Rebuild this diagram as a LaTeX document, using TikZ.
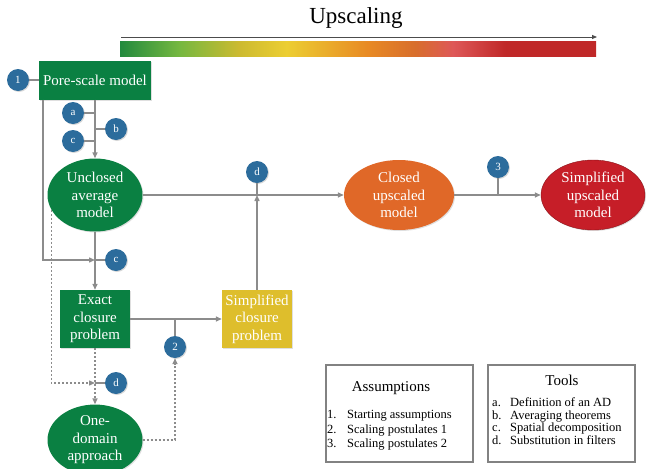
\documentclass[tikz,border=0pt]{standalone}
\usepackage{fontspec}
\setmainfont{Liberation Serif}
\usetikzlibrary{shapes.geometric,arrows.meta,shadows}

\definecolor{poregreen}{RGB}{10,128,66}
\definecolor{closedorange}{RGB}{224,104,40}
\definecolor{upred}{RGB}{198,30,40}
\definecolor{simpyellow}{RGB}{222,190,44}
\definecolor{badgeblue}{RGB}{44,108,156}
\definecolor{linegray}{RGB}{140,140,140}
\definecolor{framegray}{RGB}{130,130,130}
% colours of the upscaling bar
\definecolor{sg1}{RGB}{34,138,62}
\definecolor{sg2}{RGB}{118,184,64}
\definecolor{sg3}{RGB}{204,186,48}
\definecolor{sg4}{RGB}{236,206,50}
\definecolor{sg5}{RGB}{232,138,36}
\definecolor{sg6}{RGB}{216,110,44}
\definecolor{sg7}{RGB}{222,88,88}
\definecolor{sg8}{RGB}{192,40,40}
\pgfdeclarehorizontalshading{upscaling}{100bp}{color(0bp)=(sg1); color(25bp)=(sg1); color(31.3bp)=(sg2); color(37.5bp)=(sg3); color(42.5bp)=(sg4); color(51bp)=(sg5); color(56bp)=(sg6); color(60bp)=(sg7); color(65.5bp)=(sg8); color(75bp)=(sg8); color(100bp)=(sg8)}

\newcommand{\bw}{70pt}

\begin{document}
\begin{tikzpicture}[x=1pt,y=-1pt,
    model/.style={text=white, align=center, inner sep=1pt, font=\fontsize{15}{17.5}\selectfont, drop shadow={opacity=0.25, shadow xshift=1pt, shadow yshift=-1pt}},
    box/.style={model, rectangle, minimum width=\bw, minimum height=58pt},
    blob/.style={model, ellipse, minimum width=95pt, minimum height=73pt},
    badge/.style={circle, fill=badgeblue, text=white, minimum size=22pt, inner sep=0pt, font=\fontsize{11}{11}\selectfont, drop shadow={opacity=0.3, shadow xshift=1pt, shadow yshift=-1pt}},
    wire/.style={draw=linegray, line width=1.4pt},
    link/.style={wire, -{Triangle[length=6pt,width=5pt]}},
    dotlink/.style={link, dash pattern=on 2pt off 2pt},
    legend/.style={draw=framegray, line width=1.8pt, fill=white, anchor=north west, drop shadow={opacity=0.25, shadow xshift=1.5pt, shadow yshift=-1.5pt}},
    item/.style={anchor=north west, inner sep=0pt, align=left}]
    \useasboundingbox (0,0) rectangle (649,469);

    % Upscaling bar
    \node[font=\fontsize{23}{23}\selectfont] (title) at (356,18) {Upscaling};
    \coordinate (barl) at (121,37);
    \coordinate (barr) at (597,37);
    \draw[black!70, line width=0.8pt, -{Triangle[length=5pt,width=4pt]}] (barl) -- (barr);
    \shade[shading=upscaling] (120,41) rectangle (596,56);

    % Models
    \node[box, fill=poregreen, minimum width=112pt, minimum height=39pt] (pore) at (95,80) {Pore-scale model};
    \node[blob, fill=poregreen] (unclosed) at (95,195) {Unclosed\\average\\model};
    \node[box, fill=poregreen] (exact) at (95,319) {Exact\\closure\\problem};
    \node[box, fill=simpyellow] (simpcl) at (257,319) {Simplified\\closure\\problem};
    \node[blob, fill=poregreen, minimum height=68pt] (onedom) at (95,440) {One-\\domain\\approach};
    \node[blob, fill=closedorange, minimum width=110pt, minimum height=70pt] (closed) at (399,195) {Closed\\upscaled\\model};
    \node[blob, fill=upred, draw=upred!70!black, minimum width=104pt, minimum height=70pt] (simpup) at (593,195) {Simplified\\upscaled\\model};

    % Badges
    \node[badge] (b1) at (18,80) {1};
    \node[badge] (ta) at (73,113) {a};
    \node[badge] (tb) at (116,129) {b};
    \node[badge] (tc) at (73,141) {c};
    \node[badge] (tc2) at (116,260) {c};
    \node[badge] (td) at (116,383) {d};
    \node[badge] (td2) at (257,172) {d};
    \node[badge] (b2) at (175,347) {2};
    \node[badge] (b3) at (498,167) {3};

    % Connectors
    \draw[wire] (b1.east) -- (pore.west);
    \draw[wire] (ta.east) -- (ta -| pore.south);
    \draw[wire] (tb.west) -- (tb -| pore.south);
    \draw[wire] (tc.east) -- (tc -| pore.south);
    \draw[link] (pore.south) -- (unclosed.north);
    \draw[link] ([xshift=4pt]pore.south west) |- (tc2 -| unclosed.south);
    \draw[wire] (tc2.west) -- (tc2 -| unclosed.south);
    \draw[link] (unclosed.south) -- (exact.north);
    \draw[dotlink] (unclosed.199) |- (td -| exact.south);
    \draw[wire] (td.west) -- (td -| exact.south);
    \draw[dotlink] (exact.south) -- (onedom.north);
    \draw[link] (exact.east) -- (simpcl.west);
    \draw[wire] (b2.north) -- (b2 |- exact.east);
    \draw[dotlink] (onedom.east) -| (b2.south);
    \draw[link] (simpcl.north) -- (simpcl.north |- unclosed.east);
    \draw[wire] (td2.south) -- (td2 |- unclosed.east);
    \draw[link] (unclosed.east) -- (closed.west);
    \draw[link] (closed.east) -- (simpup.west);
    \draw[wire] (b3.south) -- (b3 |- closed.east);

    % Legends
    \node[legend, minimum width=147pt, minimum height=97pt] (assum) at (325,364) {};
    \node[font=\fontsize{15}{15}\selectfont] (assumtitle) at (391,388) {Assumptions};
    \node[item, font=\fontsize{12.5}{14.5}\selectfont] (assumlist) at (327,410.5) {\makebox[20pt][l]{1.}Starting assumptions\\\makebox[20pt][l]{2.}Scaling postulates 1\\\makebox[20pt][l]{3.}Scaling postulates 2};

    \node[legend, minimum width=147pt, minimum height=97pt] (tools) at (487,364) {};
    \node[font=\fontsize{15}{15}\selectfont] (toolstitle) at (562,380) {Tools};
    \node[item, font=\fontsize{12.5}{12.5}\selectfont] (toollist) at (492,397.5) {\makebox[18pt][l]{a.}Definition of an AD\\\makebox[18pt][l]{b.}Averaging theorems\\\makebox[18pt][l]{c.}Spatial decomposition\\\makebox[18pt][l]{d.}Substitution in filters};

\end{tikzpicture}
\end{document}
